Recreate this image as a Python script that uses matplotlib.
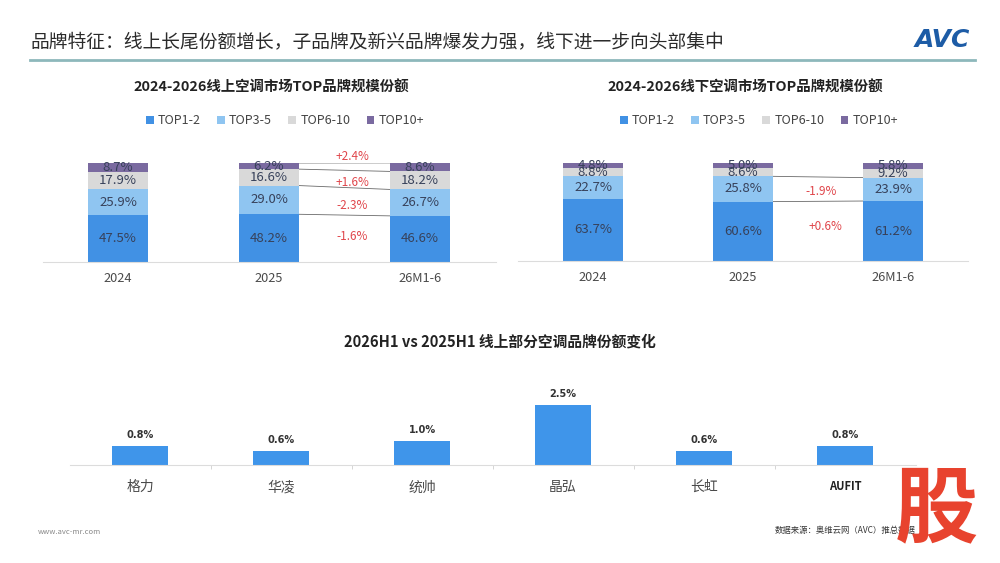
import matplotlib
matplotlib.use("Agg")
import matplotlib.pyplot as plt
from matplotlib.patches import Patch
import numpy as np

plt.rcParams['font.family'] = ['Noto Sans CJK SC', 'DejaVu Sans']

# ---------------- data ----------------
periods = ["2024", "2025", "26M1-6"]
series_names = ["TOP1-2", "TOP3-5", "TOP6-10", "TOP10+"]
online_top12 = [47.5, 48.2, 46.6]
online_top35 = [25.9, 29.0, 26.7]
online_top610 = [17.9, 16.6, 18.2]
online_top10p = [8.7, 6.2, 8.6]
offline_top12 = [63.7, 60.6, 61.2]
offline_top35 = [22.7, 25.8, 23.9]
offline_top610 = [8.8, 8.6, 9.2]
offline_top10p = [4.8, 5.0, 5.8]
online_changes = ["-1.6%", "-2.3%", "+1.6%", "+2.4%"]
offline_changes = ["+0.6%", "-1.9%"]
brands = ["格力", "华凌", "统帅", "晶弘", "长虹", "AUFIT"]
brand_change = [0.8, 0.6, 1.0, 2.5, 0.6, 0.8]

# ---------------- style ----------------
colors = ["#4191e4", "#8fc5f1", "#d9d9d9", "#7a6aa0"]
label_color = "#37415a"
red = "#e0464b"
W, H = 1000, 563
fig = plt.figure(figsize=(W / 100, H / 100), dpi=100)
fig.patch.set_facecolor("white")


def rect(x0, y0, x1, y1):
    return [x0 / W, 1 - y1 / H, (x1 - x0) / W, (y1 - y0) / H]


def fx(x):
    return x / W


def fy(y):
    return 1 - y / H


# header
fig.text(fx(30), fy(42), "品牌特征：线上长尾份额增长，子品牌及新兴品牌爆发力强，线下进一步向头部集中",
         fontsize=13.5, color="#2b2b2b", va="center", ha="left")
fig.add_artist(plt.Line2D([fx(30), fx(975)], [fy(60), fy(60)], color="#8db8bb", lw=2))
fig.text(fx(970), fy(40), "AVC", fontsize=18, fontweight="bold", fontstyle="italic",
         color="#1d5ca6", ha="right", va="center", family="DejaVu Sans")


def stacked(ax_rect, title, title_xy, legend_xy, segs, changes, change_levels,
            change_y, change_x):
    ax = fig.add_axes(ax_rect)
    x = np.arange(len(periods))
    bottom = np.zeros(len(periods))
    for vals, c in zip(segs, colors):
        vals = np.array(vals)
        ax.bar(x, vals, bottom=bottom, width=0.4, color=c, zorder=2)
        for xi, b, v in zip(x, bottom, vals):
            ax.text(xi, b + v / 2, f"{v:.1f}%", ha="center", va="center",
                    fontsize=9.5, color=label_color, zorder=3)
        bottom = bottom + vals
    cum = np.cumsum(np.array(segs), axis=0)
    for lvl in change_levels:
        ax.plot([1.2, 1.8], [cum[lvl, 1], cum[lvl, 2]], color="#6a6a6a", lw=0.6, zorder=1)
    for txt, yv, xv in zip(changes, change_y, change_x):
        ax.text(xv, yv, txt, ha="center", va="center", fontsize=8.5, color=red, clip_on=False)
    ax.set_xlim(-0.5, 2.5)
    ax.set_ylim(0, 100)
    ax.set_xticks(x)
    ax.set_xticklabels(periods, fontsize=9.2, color="#4a4a4a")
    ax.tick_params(axis="x", length=0, pad=7)
    ax.set_yticks([])
    for s in ["left", "right", "top"]:
        ax.spines[s].set_visible(False)
    ax.spines["bottom"].set_color("#dcdcdc")
    fig.text(fx(title_xy[0]), fy(title_xy[1]), title, fontsize=10.4, fontweight="bold",
             ha="center", va="center", color="#222222")
    handles = [Patch(facecolor=c, edgecolor="none") for c in colors]
    fig.legend(handles, series_names, loc="center", bbox_to_anchor=(fx(legend_xy[0]), fy(legend_xy[1])),
               ncol=4, frameon=False, fontsize=9, handlelength=0.6, handleheight=0.6,
               handletextpad=0.35, columnspacing=1.3, labelcolor="#444444")
    return ax


stacked(rect(42.5, 163, 495.5, 262), "2024-2026线上空调市场TOP品牌规模份额", (271, 88), (285, 121),
        [online_top12, online_top35, online_top610, online_top10p],
        online_changes, [0, 1, 2, 3], [25.4, 57, 80.3, 106.8], [1.55, 1.55, 1.55, 1.55])

stacked(rect(518, 163, 968, 261), "2024-2026线下空调市场TOP品牌规模份额", (745, 88), (759, 121),
        [offline_top12, offline_top35, offline_top610, offline_top10p],
        offline_changes, [0, 1], [35.6, 71.2], [1.55, 1.52])

# bottom chart
ax3 = fig.add_axes(rect(69.5, 393, 915.5, 465))
xb = np.arange(len(brands))
bars = ax3.bar(xb, brand_change, width=0.4, color="#3f95ea", zorder=2)
for xi, v in zip(xb, brand_change):
    ax3.annotate(f"{v:.1f}%", (xi, v), xytext=(0, 4), textcoords="offset points",
                 ha="center", va="bottom", fontsize=7.8, fontweight="bold", color="#333333",
                 family=["DejaVu Sans"], fontstretch="condensed")
ax3.set_xlim(-0.5, 5.5)
ax3.set_ylim(0, 3)
ax3.set_xticks(xb)
ax3.set_xticklabels(brands, fontsize=10, color="#4a4a4a")
for lab in ax3.get_xticklabels():
    if lab.get_text() == "AUFIT":
        lab.set_fontweight("bold")
        lab.set_fontsize(8)
        lab.set_color("#222222")
ax3.set_xticks(np.arange(0.5, 5, 1), minor=True)
ax3.tick_params(axis="x", which="major", length=0, pad=11)
ax3.tick_params(axis="x", which="minor", length=3, color="#cfcfcf", width=0.6)
ax3.set_yticks([])
for s in ["left", "right", "top"]:
    ax3.spines[s].set_visible(False)
ax3.spines["bottom"].set_color("#dcdcdc")
fig.text(fx(500), fy(342), "2026H1 vs 2025H1 线上部分空调品牌份额变化", fontsize=10.6,
         fontweight="bold", ha="center", va="center", color="#222222")

# footer
fig.text(fx(38), fy(532), "www.avc-mr.com", fontsize=5.5, color="#8a8a8a", va="center")
fig.text(fx(775), fy(530), "数据来源：奥维云网（AVC）推总数据", fontsize=6, color="#333333", va="center")
fig.text(fx(936), fy(511), "股", fontsize=60, fontweight="bold", color="#e8432e",
         ha="center", va="center", zorder=10)

fig.savefig("out.png", dpi=100, facecolor="white")
